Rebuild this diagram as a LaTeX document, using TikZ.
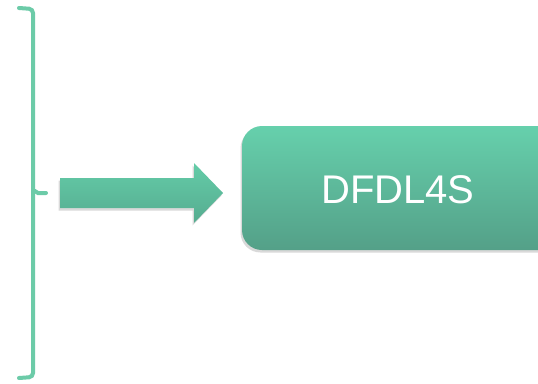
\documentclass[tikz,border=0pt]{standalone}
\usepackage{fontspec}
\setmainfont{Liberation Sans}
\usetikzlibrary{shadows}
\definecolor{brk}{RGB}{108,203,168}
\definecolor{gtop}{RGB}{102,208,172}
\definecolor{gbot}{RGB}{84,160,136}
\definecolor{atop}{RGB}{100,204,168}
\definecolor{abot}{RGB}{86,172,144}
\tikzset{
  bracketline/.style={draw=brk, line width=4pt, line cap=round, rounded corners=4pt},
  shadowed/.style={drop shadow={shadow xshift=-1.5pt, shadow yshift=-2.5pt, opacity=0.15, fill=black}},
  mainbox/.style={rounded corners=20pt, top color=gtop, bottom color=gbot, draw=none, shadowed},
  boxtext/.style={text=white, font=\fontsize{40}{44}\selectfont},
  bigarrow/.style={top color=atop, bottom color=abot, draw=none, shadowed}
}
\begin{document}
\begin{tikzpicture}[x=1pt, y=-1pt]
\useasboundingbox (0,0) rectangle (538,383);
\fill[white] (0,0) rectangle (538,383);
% bracket
\draw[bracketline] (19,8) -- (33,9) -- (33,377) -- (19,378);
\draw[bracketline, rounded corners=2pt] (35,191) -- (36,193) -- (46,193);
% arrow
\path[bigarrow] (60,178) -- (194,178) -- (194,163) -- (223,193) -- (194,223) -- (194,208) -- (60,208) -- cycle;
% box
\path[mainbox] (242,126) rectangle (580,250);
\node[boxtext] (dfdl) at (398,190) {DFDL4S};
\end{tikzpicture}
\end{document}
